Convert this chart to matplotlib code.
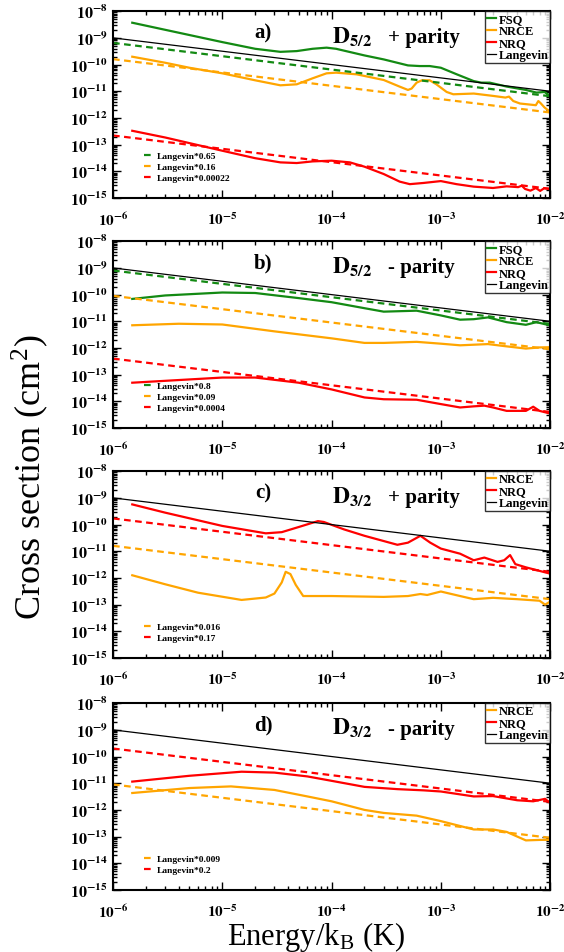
import numpy as np
import matplotlib.pyplot as plt
from matplotlib.ticker import LogLocator, FuncFormatter, NullFormatter

plt.rcParams['font.family'] = ['Liberation Serif', 'DejaVu Serif']
plt.rcParams['mathtext.fontset'] = 'stix'

# Langevin cross section endpoints (cm^2)
lang_E = [1e-6, 1e-2]
lang_sig = [1.0e-9, 1.0e-11]

# panel a) D5/2 + parity
a_fsq_E = [1.5e-6, 1e-5, 2e-5, 3.4e-5, 4.8e-5, 6.7e-5, 9e-5, 1.1e-4, 2e-4, 3e-4, 5e-4, 6.4e-4, 7.9e-4, 1e-3, 1.4e-3,
           2e-3, 2.35e-3, 2.8e-3, 4e-3, 6e-3, 7.5e-3, 8.9e-3, 1e-2]
a_fsq = [3.7e-9, 6.95e-10, 3.9e-10, 3.0e-10, 3.2e-10, 3.9e-10, 4.3e-10, 3.9e-10, 2.2e-10, 1.56e-10, 9.3e-11, 8.8e-11, 8.8e-11,
         7.6e-11, 4.3e-11, 2.4e-11, 2.1e-11, 2.1e-11, 1.5e-11, 1.12e-11, 8.9e-12, 9.4e-12, 6.6e-12]
a_nrce_E = [1.5e-6, 3e-6, 5e-6, 1e-5, 2e-5, 3.4e-5, 4.8e-5, 6.7e-5, 9e-5, 1.1e-4, 1.7e-4, 3e-4, 4.2e-4, 5e-4, 5.4e-4, 6e-4,
            6.7e-4, 7.9e-4, 9.1e-4, 1.13e-3, 1.3e-3, 2e-3, 3e-3, 3.9e-3, 4.2e-3, 4.6e-3, 5.3e-3, 7.4e-3, 7.8e-3, 8.2e-3,
            8.9e-3, 1e-2]
a_nrce = [1.97e-10, 1.17e-10, 7.6e-11, 4.7e-11, 2.57e-11, 1.67e-11, 1.82e-11, 3.05e-11, 4.7e-11, 4.97e-11, 4.3e-11, 2.64e-11,
          1.49e-11, 1.12e-11, 1.26e-11, 2.1e-11, 2.57e-11, 2.57e-11, 1.82e-11, 9.4e-12, 7.7e-12, 8.2e-12, 6.7e-12, 5.8e-12,
          6.3e-12, 4.3e-12, 3.47e-12, 3.0e-12, 4.3e-12, 3.55e-12, 2.45e-12, 1.7e-12]
a_nrq_E = [1.5e-6, 3e-6, 1e-5, 2e-5, 3.4e-5, 4.8e-5, 6.7e-5, 1e-4, 1.47e-4, 2e-4, 3e-4, 4.2e-4, 5.2e-4, 6.9e-4, 1e-3, 1.39e-3,
           2e-3, 3e-3, 4e-3, 5.1e-3, 5.5e-3, 5.9e-3, 6.6e-3, 7.4e-3, 8.1e-3, 8.8e-3, 1e-2]
a_nrq = [3.3e-13, 1.85e-13, 5.9e-14, 3.1e-14, 2.16e-14, 2.04e-14, 2.35e-14, 2.5e-14, 2.16e-14, 1.49e-14, 7.9e-15, 4.1e-15,
         3.3e-15, 3.65e-15, 4.3e-15, 3.3e-15, 2.66e-15, 2.37e-15, 2.73e-15, 2.55e-15, 2.9e-15, 2.18e-15, 1.88e-15, 2.37e-15,
         1.84e-15, 2.3e-15, 2.18e-15]
a_fac = [0.65, 0.16, 0.00022]

# panel b) D5/2 - parity
b_fsq_E = [1.5e-6, 3e-6, 1e-5, 2e-5, 5e-5, 1e-4, 2e-4, 3e-4, 6e-4, 1e-3, 1.5e-3, 2e-3, 2.7e-3, 4e-3, 6e-3, 7.5e-3, 1e-2]
b_fsq = [6.9e-11, 9.3e-11, 1.2e-10, 1.15e-10, 7.4e-11, 5.2e-11, 3.1e-11, 2.3e-11, 2.5e-11, 1.66e-11, 1.15e-11, 1.2e-11, 1.4e-11,
         9.3e-12, 7.4e-12, 9.3e-12, 7.0e-12]
b_nrce_E = [1.5e-6, 4e-6, 1e-5, 3e-5, 1e-4, 2e-4, 3e-4, 6e-4, 1e-3, 1.5e-3, 2.7e-3, 4e-3, 6e-3, 8e-3, 1e-2]
b_nrce = [7.1e-12, 8.1e-12, 7.6e-12, 4.2e-12, 2.3e-12, 1.55e-12, 1.55e-12, 1.7e-12, 1.45e-12, 1.26e-12, 1.4e-12, 1.15e-12,
          9.5e-13, 1.05e-12, 1.07e-12]
b_nrq_E = [1.5e-6, 1e-5, 2e-5, 5e-5, 1e-4, 2e-4, 3e-4, 6e-4, 1e-3, 1.5e-3, 2e-3, 2.5e-3, 3e-3, 4e-3, 6e-3, 7e-3, 8e-3, 1e-2]
b_nrq = [5.0e-14, 7.8e-14, 7.8e-14, 5.0e-14, 2.8e-14, 1.4e-14, 1.2e-14, 1.15e-14, 7.9e-15, 5.9e-15, 6.5e-15, 6.9e-15, 5.9e-15,
         4.4e-15, 4.4e-15, 6.3e-15, 4.4e-15, 3.5e-15]
b_fac = [0.8, 0.09, 0.0004]

# panel c) D3/2 + parity
c_nrce_E = [1.5e-6, 3e-6, 6e-6, 1.5e-5, 2.5e-5, 3e-5, 3.5e-5, 3.8e-5, 4.2e-5, 4.7e-5, 5.5e-5, 1e-4, 3e-4, 5e-4, 6.5e-4,
            7.5e-4, 1e-3, 1.5e-3, 2e-3, 3e-3, 5e-3, 8e-3, 9e-3, 1e-2]
c_nrce = [1.26e-12, 5.8e-13, 2.8e-13, 1.5e-13, 1.85e-13, 2.6e-13, 6.8e-13, 1.7e-12, 1.4e-12, 5.5e-13, 2.1e-13, 2.1e-13, 1.95e-13,
          2.1e-13, 2.5e-13, 2.3e-13, 3.1e-13, 2.1e-13, 1.6e-13, 1.8e-13, 1.6e-13, 1.4e-13, 1.0e-13, 1.3e-13]
c_nrq_E = [1.5e-6, 3e-6, 1e-5, 2.5e-5, 3.5e-5, 5e-5, 7.5e-5, 8.5e-5, 1.3e-4, 2e-4, 4e-4, 5e-4, 6.5e-4, 8e-4, 1e-3, 1.5e-3,
           2e-3, 2.5e-3, 3.3e-3, 3.8e-3, 4.3e-3, 4.8e-3, 6e-3, 1e-2]
c_nrq = [5.7e-10, 2.8e-10, 8.9e-11, 4.7e-11, 5.2e-11, 8.1e-11, 1.35e-10, 1.25e-10, 6.6e-11, 3.8e-11, 1.75e-11, 2.1e-11, 3.8e-11,
         2.1e-11, 1.26e-11, 8.1e-12, 4.6e-12, 5.8e-12, 4.0e-12, 4.6e-12, 7.2e-12, 3.3e-12, 2.5e-12, 1.45e-12]
c_fac = [0.016, 0.17]

# panel d) D3/2 - parity
d_nrce_E = [1.5e-6, 5e-6, 1.2e-5, 3e-5, 6e-5, 1e-4, 2e-4, 3e-4, 6e-4, 1e-3, 2e-3, 3e-3, 4e-3, 6e-3, 8e-3, 1e-2]
d_nrce = [4.3e-12, 6.6e-12, 7.6e-12, 5.6e-12, 3.2e-12, 2.1e-12, 1.0e-12, 7.7e-13, 6.1e-13, 3.8e-13, 1.85e-13, 1.85e-13, 1.5e-13,
          7.2e-14, 7.5e-14, 7.6e-14]
d_nrq_E = [1.5e-6, 5e-6, 1.5e-5, 3e-5, 6e-5, 1e-4, 2e-4, 4e-4, 7e-4, 1e-3, 2e-3, 3e-3, 5e-3, 7e-3, 9e-3, 1e-2]
d_nrq = [1.15e-11, 1.9e-11, 2.7e-11, 2.5e-11, 1.8e-11, 1.23e-11, 7.3e-12, 6.0e-12, 5.4e-12, 4.9e-12, 3.2e-12, 3.3e-12, 2.3e-12,
         2.1e-12, 2.6e-12, 1.8e-12]
d_fac = [0.009, 0.2]

GREEN = '#138a13'
ORANGE = '#ffa500'
RED = '#ff0000'

panels = [
    ('a)', '5/2', '+ parity', [('FSQ', a_fsq_E, a_fsq, GREEN), ('NRCE', a_nrce_E, a_nrce, ORANGE), ('NRQ', a_nrq_E, a_nrq, RED)], a_fac),
    ('b)', '5/2', '- parity', [('FSQ', b_fsq_E, b_fsq, GREEN), ('NRCE', b_nrce_E, b_nrce, ORANGE), ('NRQ', b_nrq_E, b_nrq, RED)], b_fac),
    ('c)', '3/2', '+ parity', [('NRCE', c_nrce_E, c_nrce, ORANGE), ('NRQ', c_nrq_E, c_nrq, RED)], c_fac),
    ('d)', '3/2', '- parity', [('NRCE', d_nrce_E, d_nrce, ORANGE), ('NRQ', d_nrq_E, d_nrq, RED)], d_fac),
]

def fmt(v, pos):
    e = int(round(np.log10(v)))
    return r'$\mathbf{10^{%d}}$' % e

fig = plt.figure(figsize=(5.64, 9.53), dpi=100)
bottoms = [0.7912, 0.5498, 0.3085, 0.0651]

for (lab, jj, par, curves, facs), b in zip(panels, bottoms):
    ax = fig.add_axes([0.2004, b, 0.775, 0.196])
    ax.set_xscale('log')
    ax.set_yscale('log')
    main = []
    for name, E, s, col in curves:
        h, = ax.plot(E, s, color=col, lw=1.6, label=name)
        main.append(h)
    hl, = ax.plot(lang_E, lang_sig, color='black', lw=0.9, label='Langevin')
    main.append(hl)
    dash = []
    for (name, E, s, col), f in zip(curves, facs):
        h, = ax.plot(lang_E, np.array(lang_sig) * f, color=col, lw=1.6, ls=(0, (3, 2)),
                     label='Langevin*%g' % f)
        dash.append(h)
    ax.set_xlim(1e-6, 1e-2)
    ax.set_ylim(1e-15, 1e-8)
    ax.xaxis.set_major_locator(LogLocator(base=10, numticks=10))
    ax.xaxis.set_minor_locator(LogLocator(base=10, subs=np.arange(2, 10), numticks=50))
    ax.yaxis.set_major_locator(LogLocator(base=10, numticks=10))
    ax.yaxis.set_minor_locator(LogLocator(base=10, subs=np.arange(2, 10), numticks=50))
    ax.xaxis.set_major_formatter(FuncFormatter(fmt))
    ax.yaxis.set_major_formatter(FuncFormatter(fmt))
    ax.xaxis.set_minor_formatter(NullFormatter())
    ax.yaxis.set_minor_formatter(NullFormatter())
    ax.tick_params(which='both', direction='in', top=True, right=True, width=1.0)
    ax.tick_params(which='major', length=6)
    ax.tick_params(which='minor', length=3)
    ax.tick_params(axis='x', pad=9, labelsize=11)
    ax.tick_params(axis='y', pad=4, labelsize=11.5)
    for sp in ax.spines.values():
        sp.set_linewidth(1.5)

    ax.text(0.343, 0.861, lab, transform=ax.transAxes, ha='center', va='baseline',
            fontsize=15, fontweight='bold')
    ax.text(0.50, 0.834, r'$\mathbf{D_{%s}}$' % jj, transform=ax.transAxes, ha='left', va='baseline',
            fontsize=17)
    ax.text(0.63, 0.834, par, transform=ax.transAxes, ha='left', va='baseline',
            fontsize=15, fontweight='bold')

    leg1 = ax.legend(handles=main, loc='upper right', frameon=True, fancybox=False, edgecolor='black',
                     prop={'weight': 'bold', 'size': 9}, handlelength=0.7, handletextpad=0.2,
                     labelspacing=0.0, borderpad=0.15, borderaxespad=0.0)
    leg1.get_frame().set_linewidth(1.0)
    ax.add_artist(leg1)
    ax.legend(handles=dash, loc='lower left', bbox_to_anchor=(0.06, 0.06), frameon=False,
              prop={'weight': 'bold', 'size': 6.8}, handlelength=1.0, handletextpad=0.4,
              labelspacing=0.25, borderpad=0.0)

fig.text(0.053, 0.5, r'Cross section (cm$^\mathregular{2}$)', rotation=90, ha='center', va='center', fontsize=26)
fig.text(0.56, 0.017, r'Energy/k$_\mathregular{B}$ (K)', ha='center', va='center', fontsize=22)

fig.savefig('out.png', dpi=100)
